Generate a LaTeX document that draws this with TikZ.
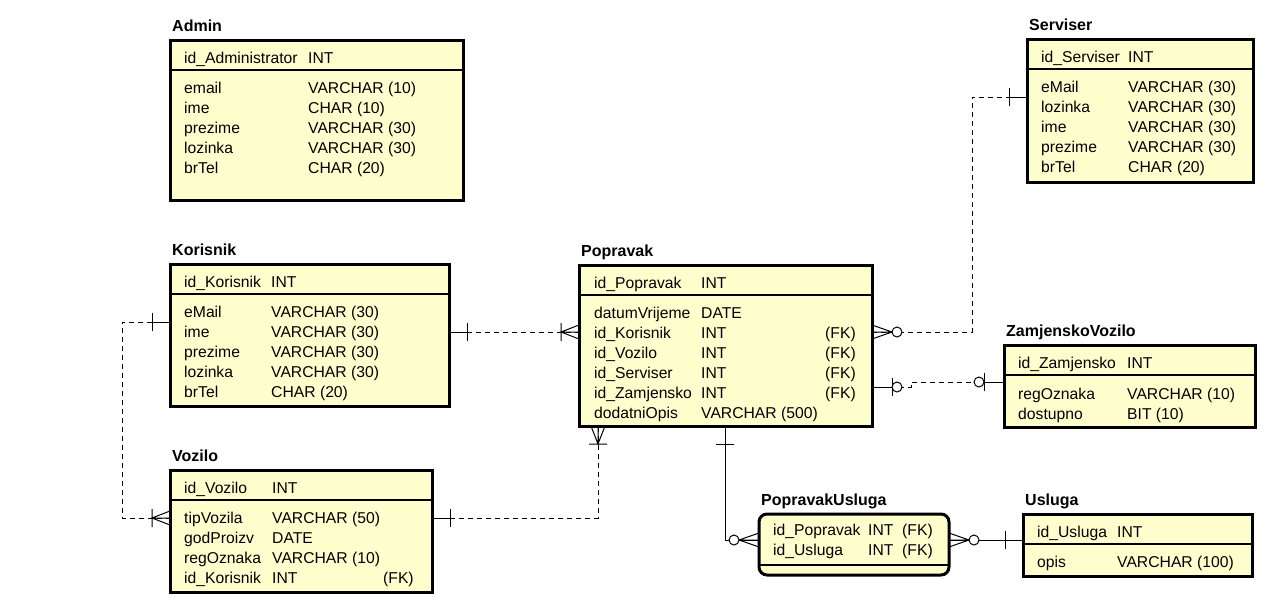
\documentclass[tikz,border=0pt]{standalone}
\usepackage{fontspec}
\setmainfont{Liberation Sans}
\usetikzlibrary{calc}
\definecolor{eyellow}{RGB}{255,255,206}

\tikzset{
  ebox/.style={rectangle, draw, line width=3pt, fill=eyellow, inner sep=0pt,
    outer sep=0pt, anchor=north west},
  etitle/.style={anchor=base west, inner sep=0pt,
    font=\fontsize{16}{18}\selectfont\bfseries},
  ftext/.style={anchor=base west, inner sep=0pt, font=\fontsize{15.7}{18}\selectfont},
  sepline/.style={line width=1.3pt},
  conn/.style={line width=1pt, black},
  dashconn/.style={conn, dash pattern=on 5pt off 4pt},
  % relationship end markers, drawn along local +x away from the entity
  one/.pic={\draw[conn] (0,0) -- (18,0) (18,-9) -- (18,9);},
  onemany/.pic={\draw[conn] (0,0) -- (18,0) (0,-7) -- (18,0) -- (0,7)
    (18,-9) -- (18,9);},
  zeromany/.pic={\draw[conn] (0,0) -- (20,0) (0,-7) -- (20,0) -- (0,7);
    \draw[conn, fill=white] (25,0) circle[radius=5];},
  zeroone/.pic={\draw[conn] (0,0) -- (20,0) (20,-9) -- (20,9);
    \draw[conn, fill=white] (25,0) circle[radius=5];},
}

% entity box: name, left, top, right, bottom, title
\newcommand\entitybox[6]{%
  \node[ebox, minimum width={(#4-#2)*1pt}, minimum height={(#5-#3)*1pt}] (#1) at (#2,#3) {};
  \node[etitle] (#1-title) at (#2+2,#3-9) {#6};
  \draw[sepline] (#1.west |- 0,#3+30) -- (#1.east |- 0,#3+30);
}
% one attribute row: name, x of column 1, x of column 2, baseline, texts
\newcommand\fld[6]{%
  \node[ftext] (#1-k) at (#2,#4) {#5};
  \node[ftext] (#1-v) at (#3,#4) {#6};
}

\begin{document}
\begin{tikzpicture}[x=1pt, y=-1pt]
\useasboundingbox (0,0) rectangle (1266,605);

% ---------------- Admin
\entitybox{adm}{170}{40}{463}{200}{Admin}
\fld{adm0}{184}{308}{63}{id\_Administrator}{INT}
\fld{adm1}{184}{308}{93}{email}{VARCHAR (10)}
\fld{adm2}{184}{308}{113}{ime}{CHAR (10)}
\fld{adm3}{184}{308}{133}{prezime}{VARCHAR (30)}
\fld{adm4}{184}{308}{153}{lozinka}{VARCHAR (30)}
\fld{adm5}{184}{308}{173}{brTel}{CHAR (20)}

% ---------------- Serviser
\entitybox{ser}{1027}{39}{1253}{182}{Serviser}
\fld{ser0}{1041}{1128}{62}{id\_Serviser}{INT}
\fld{ser1}{1041}{1128}{92}{eMail}{VARCHAR (30)}
\fld{ser2}{1041}{1128}{112}{lozinka}{VARCHAR (30)}
\fld{ser3}{1041}{1128}{132}{ime}{VARCHAR (30)}
\fld{ser4}{1041}{1128}{152}{prezime}{VARCHAR (30)}
\fld{ser5}{1041}{1128}{172}{brTel}{CHAR (20)}

% ---------------- Korisnik
\entitybox{kor}{170}{264}{449}{406}{Korisnik}
\fld{kor0}{184}{271}{287}{id\_Korisnik}{INT}
\fld{kor1}{184}{271}{317}{eMail}{VARCHAR (30)}
\fld{kor2}{184}{271}{337}{ime}{VARCHAR (30)}
\fld{kor3}{184}{271}{357}{prezime}{VARCHAR (30)}
\fld{kor4}{184}{271}{377}{lozinka}{VARCHAR (30)}
\fld{kor5}{184}{271}{397}{brTel}{CHAR (20)}

% ---------------- Popravak
\entitybox{pop}{579}{265}{872}{426}{Popravak}
\fld{pop0}{594}{701}{288}{id\_Popravak}{INT}
\fld{pop1}{594}{701}{318}{datumVrijeme}{DATE}
\fld{pop2}{594}{701}{338}{id\_Korisnik}{INT}
\fld{pop3}{594}{701}{358}{id\_Vozilo}{INT}
\fld{pop4}{594}{701}{378}{id\_Serviser}{INT}
\fld{pop5}{594}{701}{398}{id\_Zamjensko}{INT}
\fld{pop6}{594}{701}{418}{dodatniOpis}{VARCHAR (500)}
\node[ftext] (pop2-fk) at (825,338) {(FK)};
\node[ftext] (pop3-fk) at (825,358) {(FK)};
\node[ftext] (pop4-fk) at (825,378) {(FK)};
\node[ftext] (pop5-fk) at (825,398) {(FK)};

% ---------------- Vozilo
\entitybox{voz}{170}{470}{432}{592}{Vozilo}
\fld{voz0}{184}{272}{493}{id\_Vozilo}{INT}
\fld{voz1}{184}{272}{523}{tipVozila}{VARCHAR (50)}
\fld{voz2}{184}{272}{543}{godProizv}{DATE}
\fld{voz3}{184}{272}{563}{regOznaka}{VARCHAR (10)}
\fld{voz4}{184}{272}{583}{id\_Korisnik}{INT}
\node[ftext] (voz4-fk) at (383,583) {(FK)};

% ---------------- ZamjenskoVozilo
\entitybox{zam}{1004}{345}{1255}{427}{ZamjenskoVozilo}
\fld{zam0}{1018}{1127}{368}{id\_Zamjensko}{INT}
\fld{zam1}{1018}{1127}{399}{regOznaka}{VARCHAR (10)}
\fld{zam2}{1018}{1127}{419}{dostupno}{BIT (10)}

% ---------------- Usluga
\entitybox{usl}{1023}{514}{1252}{576}{Usluga}
\fld{usl0}{1037}{1117}{537}{id\_Usluga}{INT}
\fld{usl1}{1037}{1117}{567}{opis}{VARCHAR (100)}

% ---------------- PopravakUsluga (dependent entity, rounded)
\node[ebox, rounded corners=8pt, minimum width=190pt, minimum height=61pt] (pu) at (759,514) {};
\node[etitle] (pu-title) at (761,505) {PopravakUsluga};
\draw[sepline] (pu.west |- 0,565) -- (pu.east |- 0,565);
\fld{pu0}{773}{868}{535}{id\_Popravak}{INT}
\fld{pu1}{773}{868}{555}{id\_Usluga}{INT}
\node[ftext] (pu0-fk) at (902,535) {(FK)};
\node[ftext] (pu1-fk) at (902,555) {(FK)};

% ---------------- relationships
\draw[dashconn] (kor.west |- 0,322) -- (122,322) |- (voz.west |- 0,518);
\draw[dashconn] (kor.east |- 0,332) -- (pop.west |- 0,332);
\draw[dashconn] (voz.east |- 0,518) -| (pop.south -| 598,0);
\draw[dashconn] (pop.east |- 0,332) -- (972,332) |- (ser.west |- 0,97);
\draw[dashconn] (pop.east |- 0,387) -- (911,387) -- (911,382) -- (zam.west |- 0,382);
\draw[conn] (pop.south -| 725,0) |- (pu.west |- 0,540);
\draw[conn] (pu.east |- 0,540) -- (usl.west |- 0,540);

\pic[rotate=180] at (kor.west |- 0,322) {one};
\pic[rotate=180] at (voz.west |- 0,518) {onemany};
\pic at (kor.east |- 0,332) {one};
\pic[rotate=180] at (pop.west |- 0,332) {onemany};
\pic at (voz.east |- 0,518) {one};
\pic[rotate=-90] at (pop.south -| 598,0) {onemany};
\pic at (pop.east |- 0,332) {zeromany};
\pic[rotate=180] at (ser.west |- 0,97) {one};
\pic at (pop.east |- 0,387) {zeroone};
\pic[rotate=180] at (zam.west |- 0,382) {zeroone};
\pic[rotate=-90] at (pop.south -| 725,0) {one};
\pic[rotate=180] at (pu.west |- 0,540) {zeromany};
\pic at (pu.east |- 0,540) {zeromany};
\pic[rotate=180] at (usl.west |- 0,540) {one};
\end{tikzpicture}
\end{document}
